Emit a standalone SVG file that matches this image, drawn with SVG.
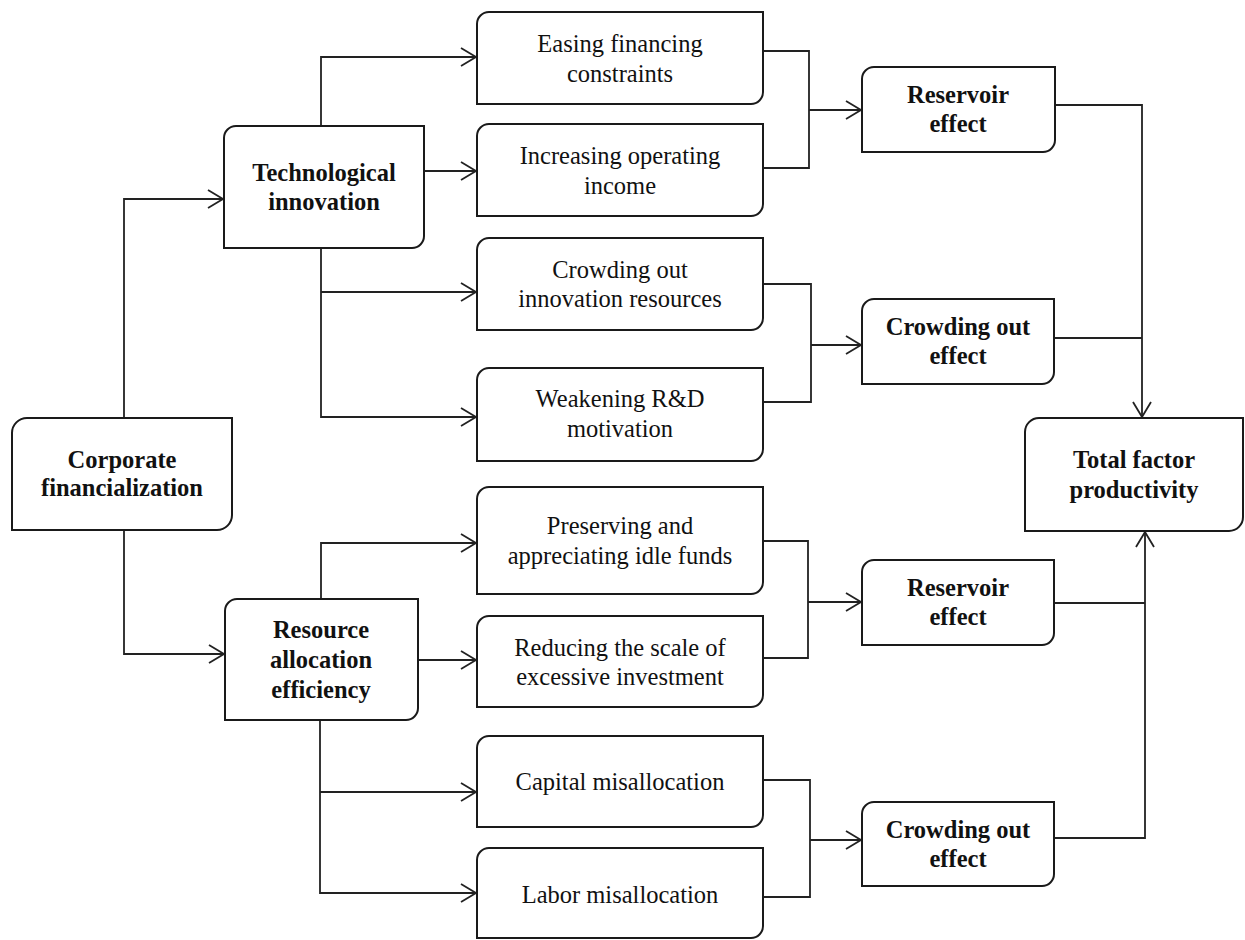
<svg xmlns="http://www.w3.org/2000/svg" width="1245" height="940" viewBox="0 0 1245 940">
<style>
.box{fill:#fff;stroke:#1a1a1a;stroke-width:2}
.c{fill:none;stroke:#222;stroke-width:1.8}
.a{marker-end:url(#ah)}
text{font-family:"Liberation Serif","Times New Roman",serif;font-size:24.5px;fill:#111;text-anchor:middle}
.b{font-weight:bold}
</style>
<defs>
<marker id="ah" markerUnits="userSpaceOnUse" markerWidth="20" markerHeight="22" viewBox="0 0 20 22" refX="17" refY="11" orient="auto">
<path d="M2,2 L17,11 L2,20" fill="none" stroke="#222" stroke-width="1.8"/>
</marker>
</defs>
<rect width="1245" height="940" fill="#fff"/>
<g id="connectors">
<path class="c a" d="M124,418 V199 H223"/>
<path class="c a" d="M124,530 V654 H224"/>
<path class="c a" d="M321,126 V57 H476"/>
<path class="c a" d="M424,171 H476"/>
<path class="c a" d="M321,248 V417 H476"/>
<path class="c a" d="M321,292 H476"/>
<path class="c" d="M763,51 H809 V168 H763"/>
<path class="c a" d="M809,110 H861"/>
<path class="c" d="M763,284 H811 V402 H763"/>
<path class="c a" d="M811,345 H861"/>
<path class="c a" d="M1055,105 H1142 V417"/>
<path class="c" d="M1054,338 H1142"/>
<path class="c a" d="M321,599 V543 H476"/>
<path class="c a" d="M418,660 H476"/>
<path class="c a" d="M320,720 V893 H476"/>
<path class="c a" d="M320,792 H476"/>
<path class="c" d="M763,541 H808 V658 H763"/>
<path class="c a" d="M808,602 H861"/>
<path class="c" d="M763,780 H810 V897 H763"/>
<path class="c a" d="M810,840 H861"/>
<path class="c" d="M1054,603 H1145"/>
<path class="c a" d="M1054,838 H1145 V532"/>
</g>
<g id="corporate">
<path class="box" d="M27,418 H232 V515 A15,15 0 0 1 217,530 H12 V433 A15,15 0 0 1 27,418 Z"/>
<text class="b" x="122" y="468">Corporate</text>
<text class="b" x="122" y="496">financialization</text>
</g>
<g id="tech">
<path class="box" d="M236,126 H424 V236 A12,12 0 0 1 412,248 H224 V138 A12,12 0 0 1 236,126 Z"/>
<text class="b" x="324" y="181">Technological</text>
<text class="b" x="324" y="210">innovation</text>
</g>
<g id="resource">
<path class="box" d="M237,599 H418 V708 A12,12 0 0 1 406,720 H225 V611 A12,12 0 0 1 237,599 Z"/>
<text class="b" x="321" y="638">Resource</text>
<text class="b" x="321" y="668">allocation</text>
<text class="b" x="321" y="698">efficiency</text>
</g>
<g id="easing">
<path class="box" d="M489,12 H763 V92 A12,12 0 0 1 751,104 H477 V24 A12,12 0 0 1 489,12 Z"/>
<text x="620" y="52">Easing financing</text>
<text x="620" y="82">constraints</text>
</g>
<g id="increasing">
<path class="box" d="M489,124 H763 V204 A12,12 0 0 1 751,216 H477 V136 A12,12 0 0 1 489,124 Z"/>
<text x="620" y="164">Increasing operating</text>
<text x="620" y="194">income</text>
</g>
<g id="crowding-innov">
<path class="box" d="M489,238 H763 V318 A12,12 0 0 1 751,330 H477 V250 A12,12 0 0 1 489,238 Z"/>
<text x="620" y="278">Crowding out</text>
<text x="620" y="307">innovation resources</text>
</g>
<g id="weakening">
<path class="box" d="M489,368 H763 V449 A12,12 0 0 1 751,461 H477 V380 A12,12 0 0 1 489,368 Z"/>
<text x="620" y="407">Weakening R&amp;D</text>
<text x="620" y="437">motivation</text>
</g>
<g id="preserving">
<path class="box" d="M489,487 H763 V582 A12,12 0 0 1 751,594 H477 V499 A12,12 0 0 1 489,487 Z"/>
<text x="620" y="534">Preserving and</text>
<text x="620" y="564">appreciating idle funds</text>
</g>
<g id="reducing">
<path class="box" d="M489,616 H763 V695 A12,12 0 0 1 751,707 H477 V628 A12,12 0 0 1 489,616 Z"/>
<text x="620" y="656">Reducing the scale of</text>
<text x="620" y="685">excessive investment</text>
</g>
<g id="capital">
<path class="box" d="M489,736 H763 V815 A12,12 0 0 1 751,827 H477 V748 A12,12 0 0 1 489,736 Z"/>
<text x="620" y="790">Capital misallocation</text>
</g>
<g id="labor">
<path class="box" d="M489,848 H763 V926 A12,12 0 0 1 751,938 H477 V860 A12,12 0 0 1 489,848 Z"/>
<text x="620" y="903">Labor misallocation</text>
</g>
<g id="reservoir1">
<path class="box" d="M874,67 H1055 V140 A12,12 0 0 1 1043,152 H862 V79 A12,12 0 0 1 874,67 Z"/>
<text class="b" x="958" y="103">Reservoir</text>
<text class="b" x="958" y="132">effect</text>
</g>
<g id="crowding1">
<path class="box" d="M874,299 H1054 V372 A12,12 0 0 1 1042,384 H862 V311 A12,12 0 0 1 874,299 Z"/>
<text class="b" x="958" y="335">Crowding out</text>
<text class="b" x="958" y="364">effect</text>
</g>
<g id="reservoir2">
<path class="box" d="M874,560 H1054 V633 A12,12 0 0 1 1042,645 H862 V572 A12,12 0 0 1 874,560 Z"/>
<text class="b" x="958" y="596">Reservoir</text>
<text class="b" x="958" y="625">effect</text>
</g>
<g id="crowding2">
<path class="box" d="M874,802 H1054 V874 A12,12 0 0 1 1042,886 H862 V814 A12,12 0 0 1 874,802 Z"/>
<text class="b" x="958" y="838">Crowding out</text>
<text class="b" x="958" y="867">effect</text>
</g>
<g id="tfp">
<path class="box" d="M1039,418 H1243 V517 A14,14 0 0 1 1229,531 H1025 V432 A14,14 0 0 1 1039,418 Z"/>
<text class="b" x="1134" y="468">Total factor</text>
<text class="b" x="1134" y="498">productivity</text>
</g>
</svg>
